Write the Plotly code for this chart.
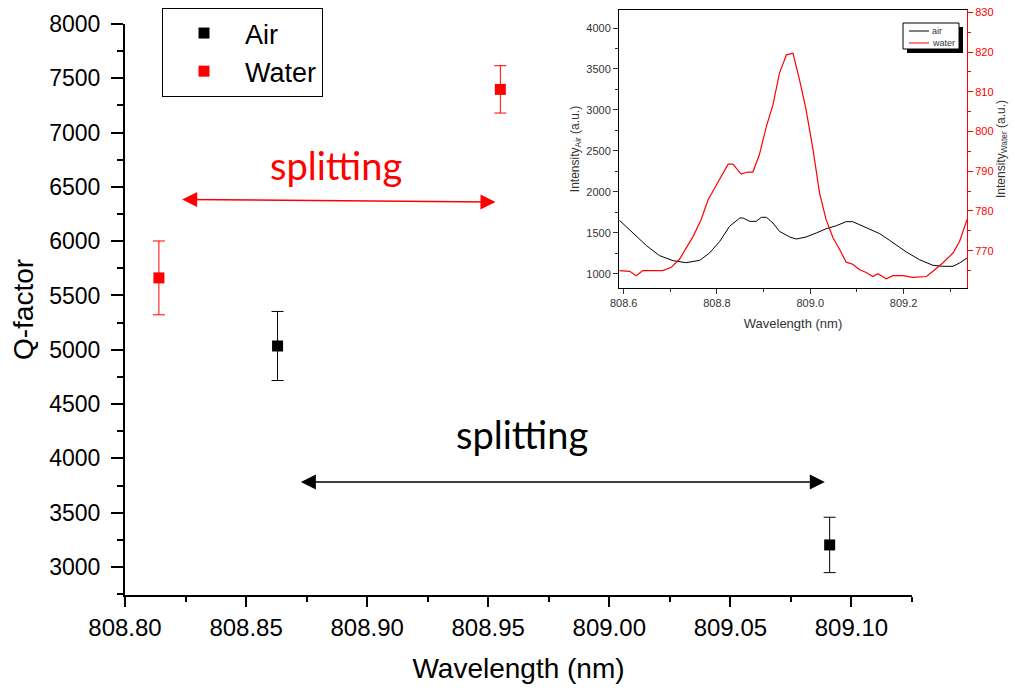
import plotly.graph_objects as go

# ---------------- main data ----------------
air_wl = [808.863, 809.091]
air_q = [5035, 3203]
air_err = [318, 255]

water_wl = [808.814, 808.955]
water_q = [5662, 7398]
water_err = [340, 218]

main_xticks = [808.80, 808.85, 808.90, 808.95, 809.00, 809.05, 809.10]
main_yticks = [3000, 3500, 4000, 4500, 5000, 5500, 6000, 6500, 7000, 7500, 8000]

# ---------------- inset spectra ----------------
inset_air_wl = [808.591, 808.620, 808.649, 808.677, 808.706, 808.734, 808.763, 808.784,
                808.806, 808.827, 808.849, 808.856, 808.870, 808.884, 808.895, 808.906,
                808.920, 808.934, 808.956, 808.970, 808.991, 809.013, 809.034, 809.056,
                809.077, 809.091, 809.113, 809.149, 809.170, 809.206, 809.234, 809.263,
                809.284, 809.306, 809.320, 809.336]
inset_air_int = [1651, 1497, 1342, 1220, 1159, 1134, 1163, 1252,
                 1395, 1578, 1680, 1680, 1639, 1639, 1688, 1688,
                 1619, 1517, 1448, 1423, 1448, 1497, 1549, 1586,
                 1635, 1635, 1578, 1488, 1407, 1265, 1171, 1102,
                 1090, 1090, 1130, 1191]

inset_water_wl = [808.591, 808.613, 808.627, 808.641, 808.684, 808.702, 808.720, 808.734,
                  808.749, 808.766, 808.781, 808.799, 808.816, 808.824, 808.834, 808.852,
                  808.866, 808.877, 808.891, 808.906, 808.920, 808.934, 808.949, 808.963,
                  808.977, 808.991, 809.006, 809.020, 809.034, 809.049, 809.063, 809.077,
                  809.091, 809.106, 809.120, 809.134, 809.145, 809.163, 809.177, 809.199,
                  809.220, 809.249, 809.263, 809.284, 809.306, 809.320, 809.336]
inset_water_int = [765.0, 764.8, 763.7, 765.0, 765.0, 765.8, 767.9, 770.7,
                   773.6, 777.8, 782.8, 786.6, 790.0, 791.8, 791.8, 789.3,
                   789.8, 789.8, 794.2, 801.3, 806.7, 814.7, 819.3, 819.7,
                   813.0, 805.5, 795.4, 784.5, 777.8, 773.2, 770.3, 767.1,
                   766.6, 765.2, 764.5, 763.5, 764.2, 762.9, 763.7, 763.7,
                   763.3, 763.5, 764.8, 766.9, 769.4, 772.3, 777.8]

inset_names = ["air", "water"]
inset_colors = ["black", "red"]

W, H = 1015, 688
ARIAL = "Arial, Liberation Sans, sans-serif"
CAL = "Lato, Open Sans, sans-serif"

fig = go.Figure()

fig.add_trace(go.Scatter(
    x=air_wl, y=air_q, mode="markers", name="Air",
    marker=dict(symbol="square", size=11, color="black"),
    error_y=dict(type="data", array=air_err, visible=True, color="black", thickness=1, width=6),
    xaxis="x", yaxis="y"))
fig.add_trace(go.Scatter(
    x=water_wl, y=water_q, mode="markers", name="Water",
    marker=dict(symbol="square", size=11, color="red"),
    error_y=dict(type="data", array=water_err, visible=True, color="red", thickness=1, width=6),
    xaxis="x", yaxis="y"))

fig.add_trace(go.Scatter(
    x=inset_air_wl, y=inset_air_int, mode="lines", name=inset_names[0], showlegend=False,
    line=dict(color=inset_colors[0], width=1), xaxis="x2", yaxis="y2"))
fig.add_trace(go.Scatter(
    x=inset_water_wl, y=inset_water_int, mode="lines", name=inset_names[1], showlegend=False,
    line=dict(color=inset_colors[1], width=1.2), xaxis="x2", yaxis="y3"))


def px_x(p):
    return p / W


def px_y(p):
    return 1 - p / H


fig.update_layout(
    width=W, height=H,
    margin=dict(l=0, r=0, t=0, b=0),
    paper_bgcolor="white", plot_bgcolor="white",
    font=dict(family=ARIAL, color="black"),
    xaxis=dict(
        domain=[px_x(125), px_x(912)], anchor="y",
        range=[808.80, 809.125], tickvals=main_xticks, tickformat=".2f",
        ticks="outside", ticklen=10, tickwidth=1.5, tickcolor="black",
        showline=True, linewidth=2, linecolor="black",
        showgrid=False, zeroline=False, automargin=False,
        minor=dict(dtick=0.025, tick0=808.8, ticks="outside", ticklen=5, tickwidth=1.5, tickcolor="black"),
        tickfont=dict(size=24, family=ARIAL, color="black"),
        title=dict(text="Wavelength (nm)", font=dict(size=28, family=ARIAL, color="black"), standoff=19),
    ),
    yaxis=dict(
        domain=[px_y(595), px_y(24)], anchor="x",
        range=[2742, 8000], tickvals=main_yticks,
        ticks="outside", ticklen=12, tickwidth=1.5, tickcolor="black",
        showline=True, linewidth=2, linecolor="black",
        showgrid=False, zeroline=False, automargin=False,
        minor=dict(dtick=250, tick0=3000, ticks="outside", ticklen=6, tickwidth=1.5, tickcolor="black"),
        tickfont=dict(size=23, family=ARIAL, color="black"),
        ticklabelstandoff=6,
        title=dict(text="Q-factor", font=dict(size=28, family=ARIAL, color="black"), standoff=7),
    ),
    xaxis2=dict(
        domain=[px_x(619), px_x(967)], anchor="y2",
        range=[808.59, 809.336], dtick=0.2, tick0=808.6, tickformat=".1f",
        ticks="outside", ticklen=5, tickcolor="#333",
        showline=True, mirror=True, linewidth=1, linecolor="black",
        showgrid=False, zeroline=False, automargin=False,
        minor=dict(dtick=0.1, tick0=808.6, ticks="outside", ticklen=3, tickcolor="#333"),
        tickfont=dict(size=11, family=ARIAL, color="#333"),
        title=dict(text="Wavelength (nm)", font=dict(size=13, family=ARIAL, color="#333"), standoff=10),
    ),
    yaxis2=dict(
        domain=[px_y(288), px_y(10)], anchor="x2",
        range=[825, 4220], dtick=500, tick0=1000,
        ticks="outside", ticklen=5, tickcolor="#333",
        showline=True, linewidth=1, linecolor="black",
        showgrid=False, zeroline=False, automargin=False,
        minor=dict(dtick=250, tick0=1000, ticks="outside", ticklen=3, tickcolor="#333"),
        tickfont=dict(size=11, family=ARIAL, color="#333"),
        title=dict(text="Intensity<sub>Air</sub> (a.u.)", font=dict(size=12, family=ARIAL, color="#333"), standoff=4),
    ),
    yaxis3=dict(
        overlaying="y2", anchor="x2", side="right",
        range=[760.6, 830.6], dtick=10, tick0=770,
        ticks="outside", ticklen=5, tickcolor="red",
        showline=True, linewidth=1, linecolor="red",
        showgrid=False, zeroline=False, automargin=False,
        minor=dict(dtick=5, tick0=770, ticks="outside", ticklen=3, tickcolor="red"),
        tickfont=dict(size=11, family=ARIAL, color="red"),
        title=dict(text="Intensity<sub>Water</sub> (a.u.)", font=dict(size=12, family=ARIAL, color="#333"), standoff=2),
    ),
    legend=dict(
        x=px_x(162), y=px_y(8), xanchor="left", yanchor="top",
        bgcolor="white", bordercolor="black", borderwidth=1,
        font=dict(size=27, family=ARIAL, color="black"),
        itemwidth=72, tracegroupgap=0,
    ),
    showlegend=True,
)

# ---- inset legend (drawn as a small boxed key with shadow, as in the reference) ----
fig.add_shape(type="rect", xref="paper", yref="paper",
              x0=px_x(907), x1=px_x(963), y0=px_y(53), y1=px_y(27),
              fillcolor="black", line=dict(width=0), layer="above")
fig.add_shape(type="rect", xref="paper", yref="paper",
              x0=px_x(903), x1=px_x(959), y0=px_y(49), y1=px_y(23),
              fillcolor="white", line=dict(color="black", width=1), layer="above")
for i, (nm, col) in enumerate(zip(inset_names, inset_colors)):
    yy = 31 + 12 * i
    fig.add_shape(type="line", xref="paper", yref="paper",
                  x0=px_x(909), x1=px_x(929), y0=px_y(yy), y1=px_y(yy),
                  line=dict(color=col, width=1), layer="above")
    fig.add_annotation(x=px_x(930), y=px_y(yy), xref="paper", yref="paper",
                       xanchor="left", yanchor="middle", text=nm, showarrow=False,
                       font=dict(size=9, family=ARIAL, color="#333"))

# ---- splitting arrows and labels ----
fig.add_annotation(x=808.953, y=6360, ax=808.823, ay=6385, xref="x", yref="y",
                   axref="x", ayref="y", text="", showarrow=True,
                   arrowside="end+start", arrowhead=2, arrowsize=2.0, arrowwidth=1.5, arrowcolor="red")
fig.add_annotation(x=808.887, y=6700, xref="x", yref="y", text="splitting", showarrow=False,
                   font=dict(size=38, family=CAL, color="red"))

fig.add_annotation(x=809.089, y=3783, ax=808.872, ay=3783, xref="x", yref="y",
                   axref="x", ayref="y", text="", showarrow=True,
                   arrowside="end+start", arrowhead=2, arrowsize=2.0, arrowwidth=1.5, arrowcolor="black")
fig.add_annotation(x=808.964, y=4225, xref="x", yref="y", text="splitting", showarrow=False,
                   font=dict(size=38, family=CAL, color="black"))

fig.write_html("out.html")
